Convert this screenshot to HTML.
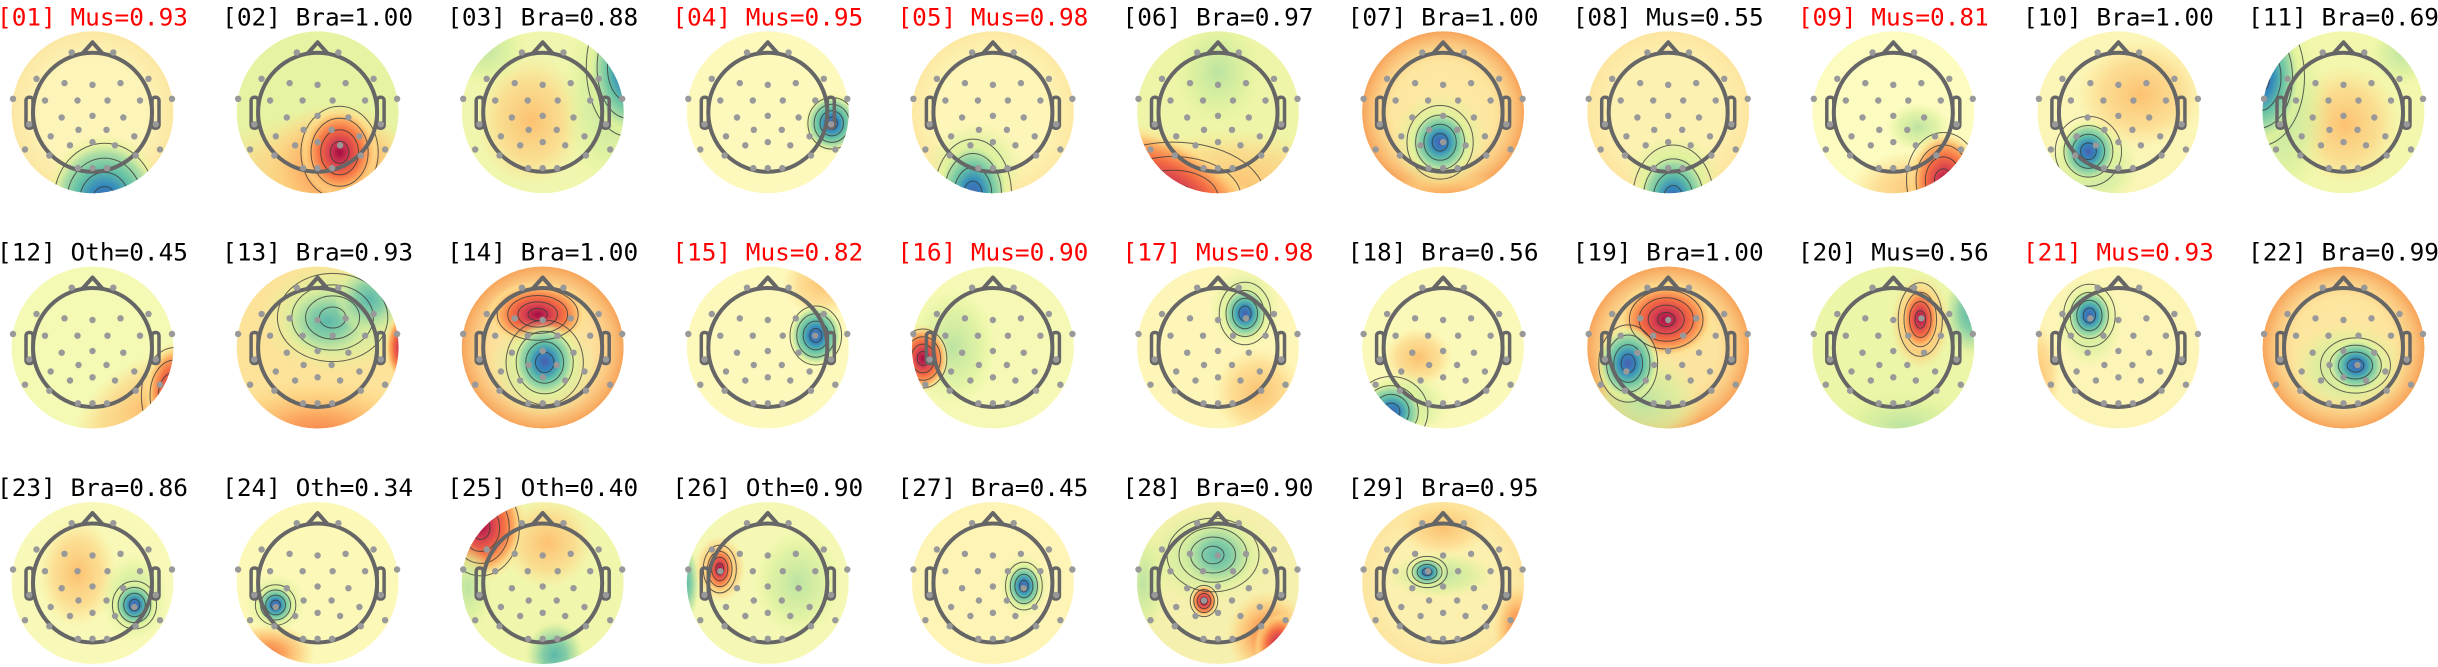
<!DOCTYPE html>
<html><head><meta charset="utf-8"><style>
html,body{margin:0;padding:0;background:#fff;}
svg{display:block;}
.t{font-family:"DejaVu Sans Mono","Liberation Mono",monospace;font-size:24.4px;text-anchor:middle;fill:#000;}
.r{fill:#f00;}
</style></head><body>
<svg width="2438" height="667" viewBox="0 0 2438 667" xmlns="http://www.w3.org/2000/svg" xmlns:xlink="http://www.w3.org/1999/xlink">
<defs>
<clipPath id="c"><circle r="81"/></clipPath>
<radialGradient id="gB"><stop offset="0" stop-color="#4a5fb0"/><stop offset=".25" stop-color="#3288bd"/><stop offset=".5" stop-color="#66c2a5"/><stop offset=".72" stop-color="#abdda4"/><stop offset=".88" stop-color="#e6f598" stop-opacity=".6"/><stop offset="1" stop-color="#e6f598" stop-opacity="0"/></radialGradient>
<radialGradient id="gR"><stop offset="0" stop-color="#a30c45"/><stop offset=".25" stop-color="#d53e4f"/><stop offset=".5" stop-color="#f46d43"/><stop offset=".72" stop-color="#fdae61"/><stop offset=".88" stop-color="#fee08b" stop-opacity=".6"/><stop offset="1" stop-color="#fee08b" stop-opacity="0"/></radialGradient>
<radialGradient id="gT"><stop offset="0" stop-color="#5cb8aa"/><stop offset=".4" stop-color="#86cea5"/><stop offset=".75" stop-color="#c0e5a0" stop-opacity=".7"/><stop offset="1" stop-color="#e6f598" stop-opacity="0"/></radialGradient>
<radialGradient id="gG"><stop offset="0" stop-color="#bce3a1"/><stop offset=".6" stop-color="#d6ef9d" stop-opacity=".7"/><stop offset="1" stop-color="#e6f598" stop-opacity="0"/></radialGradient>
<radialGradient id="gO"><stop offset="0" stop-color="#fcc170"/><stop offset=".6" stop-color="#fdd384" stop-opacity=".7"/><stop offset="1" stop-color="#fee08b" stop-opacity="0"/></radialGradient>
<radialGradient id="gOs"><stop offset="0" stop-color="#f67e4b"/><stop offset=".35" stop-color="#fba55d"/><stop offset=".7" stop-color="#fdcb7a" stop-opacity=".7"/><stop offset="1" stop-color="#fee08b" stop-opacity="0"/></radialGradient>
<radialGradient id="rimS"><stop offset="0" stop-color="#fdd488" stop-opacity="0"/><stop offset=".6" stop-color="#fdd488" stop-opacity=".15"/><stop offset="1" stop-color="#f7a45a"/></radialGradient>
<radialGradient id="rimL"><stop offset="0" stop-color="#fdd88a" stop-opacity="0"/><stop offset=".65" stop-color="#fdd88a" stop-opacity="0"/><stop offset="1" stop-color="#fdd88a" stop-opacity=".45"/></radialGradient>
<g id="rk" fill="none" stroke="#3a3a3a" stroke-opacity=".8">
<circle r=".22" vector-effect="non-scaling-stroke"/><circle r=".45" vector-effect="non-scaling-stroke"/><circle r=".68" vector-effect="non-scaling-stroke"/><circle r=".92" vector-effect="non-scaling-stroke"/>
</g>
<g id="h">
<g fill="none" stroke="#666" stroke-width="4" stroke-linejoin="round">
<circle r="59.5"/>
<path d="M-10,-58.8 L0,-70 L10,-58.8"/>
<rect x="-66.5" y="-15" width="7" height="31" rx="3" stroke-width="3.5"/>
<rect x="59.5" y="-15" width="7" height="31" rx="3" stroke-width="3.5"/>
</g>
<g fill="#999">
<circle cx="-20.8" cy="-59.8" r="3.2"/><circle cx="20.8" cy="-59.8" r="3.2"/>
<circle cx="-56" cy="-33.5" r="3.2"/><circle cx="56" cy="-33.5" r="3.2"/>
<circle cx="-28" cy="-29.2" r="3.2"/><circle cx="28" cy="-29.2" r="3.2"/><circle cx="0" cy="-27.5" r="3.2"/>
<circle cx="-79.5" cy="-13.5" r="3.2"/><circle cx="79.5" cy="-13.5" r="3.2"/>
<circle cx="-47.5" cy="-11.8" r="3.2"/><circle cx="47.5" cy="-11.8" r="3.2"/>
<circle cx="-15" cy="-11.8" r="3.2"/><circle cx="15" cy="-11.8" r="3.2"/>
<circle cx="-30.8" cy="5.2" r="3.2"/><circle cx="30.8" cy="5.2" r="3.2"/><circle cx="0" cy="3.5" r="3.2"/>
<circle cx="-63.3" cy="12" r="3.2"/><circle cx="63.3" cy="12" r="3.2"/>
<circle cx="-14" cy="17.5" r="3.2"/><circle cx="14" cy="17.5" r="3.2"/>
<circle cx="-41.8" cy="24" r="3.2"/><circle cx="41.8" cy="24" r="3.2"/>
<circle cx="-67.5" cy="37.2" r="3.2"/><circle cx="67.5" cy="37.2" r="3.2"/>
<circle cx="-22.5" cy="33" r="3.2"/><circle cx="22.5" cy="33" r="3.2"/><circle cx="0" cy="29.8" r="3.2"/>
<circle cx="-43.2" cy="43.2" r="3.2"/><circle cx="43.2" cy="43.2" r="3.2"/>
<circle cx="-14.5" cy="55.8" r="3.2"/><circle cx="14.5" cy="55.8" r="3.2"/><circle cx="0" cy="55.8" r="3.2"/>
</g>
</g>
</defs>

<!-- ROW 1 -->
<g transform="translate(92.5,112.3)">
<g clip-path="url(#c)"><circle r="81" fill="#fcf4b8"/><circle r="81" fill="url(#rimL)"/>
<ellipse cx="12" cy="90" rx="60" ry="68" fill="url(#gB)"/>
<use href="#rk" transform="translate(12,88) scale(55,62)"/></g>
<use href="#h"/><text class="t r" y="-87">[01] Mus=0.93</text></g>

<g transform="translate(317.6,112.3)">
<g clip-path="url(#c)"><circle r="81" fill="#e6f3a2"/>
<ellipse cx="0" cy="70" rx="120" ry="70" fill="url(#gO)"/>
<ellipse cx="18" cy="55" rx="75" ry="65" fill="url(#gOs)"/>
<ellipse cx="22" cy="40" rx="40" ry="46" fill="url(#gR)"/>
<use href="#rk" transform="translate(22,40) scale(42,50)"/></g>
<use href="#h"/><text class="t" y="-87">[02] Bra=1.00</text></g>

<g transform="translate(542.7,112.3)">
<g clip-path="url(#c)"><circle r="81" fill="#f1f6ae"/>
<ellipse cx="-12" cy="8" rx="55" ry="65" fill="url(#gO)"/>
<ellipse cx="68" cy="-15" rx="50" ry="95" fill="url(#gG)"/>
<ellipse cx="86" cy="-42" rx="42" ry="68" fill="url(#gB)"/>
<ellipse cx="-60" cy="-65" rx="45" ry="40" fill="url(#gG)"/>
<use href="#rk" transform="translate(85,-45) scale(45,75)"/></g>
<use href="#h"/><text class="t" y="-87">[03] Bra=0.88</text></g>

<g transform="translate(767.8,112.3)">
<g clip-path="url(#c)"><circle r="81" fill="#fdf8bb"/>
<ellipse cx="64" cy="11" rx="28" ry="30" fill="url(#gB)"/>
<use href="#rk" transform="translate(64,11) scale(26,28)"/></g>
<use href="#h"/><text class="t r" y="-87">[04] Mus=0.95</text></g>

<g transform="translate(992.9,112.3)">
<g clip-path="url(#c)"><circle r="81" fill="#fdf6b8"/><circle r="81" fill="url(#rimL)"/>
<ellipse cx="-18" cy="55" rx="50" ry="45" fill="url(#gG)"/>
<ellipse cx="-20" cy="82" rx="38" ry="55" fill="url(#gB)"/>
<use href="#rk" transform="translate(-20,82) scale(42,60)"/></g>
<use href="#h"/><text class="t r" y="-87">[05] Mus=0.98</text></g>

<g transform="translate(1218,112.3)">
<g clip-path="url(#c)"><circle r="81" fill="#eef5a8"/>
<ellipse cx="0" cy="-40" rx="45" ry="55" fill="url(#gG)"/>
<ellipse cx="15" cy="72" rx="120" ry="55" fill="url(#gO)"/>
<ellipse cx="-48" cy="82" rx="110" ry="55" fill="url(#gR)" transform="rotate(30 -48 82)"/>
<use href="#rk" transform="translate(-45,85) scale(100,60)"/></g>
<use href="#h"/><text class="t" y="-87">[06] Bra=0.97</text></g>

<g transform="translate(1443.1,112.3)">
<g clip-path="url(#c)"><circle r="81" fill="#fdeaa4"/><circle r="81" fill="url(#rimS)"/>
<ellipse cx="10" cy="95" rx="90" ry="35" fill="url(#gOs)"/>
<ellipse cx="-3" cy="28" rx="48" ry="48" fill="url(#gG)"/>
<ellipse cx="-3" cy="30" rx="32" ry="34" fill="url(#gB)"/>
<use href="#rk" transform="translate(-3,30) scale(36,40)"/></g>
<use href="#h"/><text class="t" y="-87">[07] Bra=1.00</text></g>

<g transform="translate(1668.2,112.3)">
<g clip-path="url(#c)"><circle r="81" fill="#fdf1b2"/><circle r="81" fill="url(#rimL)"/>
<ellipse cx="5" cy="62" rx="48" ry="40" fill="url(#gG)"/>
<ellipse cx="5" cy="88" rx="38" ry="52" fill="url(#gB)"/>
<use href="#rk" transform="translate(5,86) scale(44,58)"/></g>
<use href="#h"/><text class="t" y="-87">[08] Mus=0.55</text></g>

<g transform="translate(1893.3,112.3)">
<g clip-path="url(#c)"><circle r="81" fill="#fcfbc0"/>
<ellipse cx="25" cy="15" rx="32" ry="24" fill="url(#gG)"/>
<ellipse cx="25" cy="78" rx="70" ry="40" fill="url(#gO)"/>
<ellipse cx="52" cy="70" rx="38" ry="52" fill="url(#gR)"/>
<use href="#rk" transform="translate(50,68) scale(40,52)"/></g>
<use href="#h"/><text class="t r" y="-87">[09] Mus=0.81</text></g>

<g transform="translate(2118.4,112.3)">
<g clip-path="url(#c)"><circle r="81" fill="#fbf6b8"/>
<ellipse cx="22" cy="-18" rx="65" ry="55" fill="url(#gO)"/>
<ellipse cx="-25" cy="55" rx="48" ry="45" fill="url(#gG)"/>
<ellipse cx="-30" cy="39" rx="30" ry="32" fill="url(#gB)"/>
<use href="#rk" transform="translate(-30,39) scale(36,38)"/></g>
<use href="#h"/><text class="t" y="-87">[10] Bra=1.00</text></g>

<g transform="translate(2343.5,112.3)">
<g clip-path="url(#c)"><circle r="81" fill="#f3f7ae"/>
<ellipse cx="2" cy="12" rx="55" ry="60" fill="url(#gO)"/>
<ellipse cx="-62" cy="0" rx="48" ry="95" fill="url(#gG)"/>
<ellipse cx="-82" cy="-35" rx="42" ry="70" fill="url(#gB)"/>
<ellipse cx="60" cy="-60" rx="35" ry="35" fill="url(#gG)"/>
<use href="#rk" transform="translate(-85,-35) scale(50,75)"/></g>
<use href="#h"/><text class="t" y="-87">[11] Bra=0.69</text></g>

<!-- ROW 2 -->
<g transform="translate(92.5,347.5)">
<g clip-path="url(#c)"><circle r="81" fill="#f4f9b4"/>
<ellipse cx="50" cy="60" rx="80" ry="45" fill="url(#gO)" transform="rotate(-35 50 60)"/>
<ellipse cx="82" cy="45" rx="30" ry="50" fill="url(#gR)"/>
<use href="#rk" transform="translate(82,48) scale(36,52)"/></g>
<use href="#h"/><text class="t" y="-87">[12] Oth=0.45</text></g>

<g transform="translate(317.6,347.5)">
<g clip-path="url(#c)"><circle r="81" fill="#fde29a"/>
<ellipse cx="0" cy="90" rx="120" ry="60" fill="url(#gOs)"/>
<ellipse cx="20" cy="-30" rx="80" ry="58" fill="url(#gG)"/>
<ellipse cx="10" cy="-26" rx="45" ry="36" fill="url(#gT)"/>
<ellipse cx="52" cy="-48" rx="35" ry="35" fill="url(#gT)"/>
<ellipse cx="85" cy="0" rx="18" ry="35" fill="url(#gR)"/>
<use href="#rk" transform="translate(15,-30) scale(60,48)"/></g>
<use href="#h"/><text class="t" y="-87">[13] Bra=0.93</text></g>

<g transform="translate(542.7,347.5)">
<g clip-path="url(#c)"><circle r="81" fill="#fde2a0"/><circle r="81" fill="url(#rimS)"/>
<ellipse cx="-5" cy="-33" rx="52" ry="34" fill="url(#gR)"/>
<ellipse cx="0" cy="20" rx="55" ry="50" fill="url(#gG)"/>
<ellipse cx="2" cy="14" rx="34" ry="38" fill="url(#gB)"/>
<use href="#rk" transform="translate(-5,-33) scale(44,28)"/>
<use href="#rk" transform="translate(2,15) scale(42,46)"/></g>
<use href="#h"/><text class="t" y="-87">[14] Bra=1.00</text></g>

<g transform="translate(767.8,347.5)">
<g clip-path="url(#c)"><circle r="81" fill="#fdf8bb"/>
<ellipse cx="55" cy="-65" rx="40" ry="35" fill="url(#gO)"/>
<ellipse cx="48" cy="-12" rx="28" ry="32" fill="url(#gB)"/>
<use href="#rk" transform="translate(48,-12) scale(28,32)"/></g>
<use href="#h"/><text class="t r" y="-87">[15] Mus=0.82</text></g>

<g transform="translate(992.9,347.5)">
<g clip-path="url(#c)"><circle r="81" fill="#f6f9b6"/>
<ellipse cx="-40" cy="0" rx="45" ry="60" fill="url(#gG)"/>
<ellipse cx="-70" cy="11" rx="26" ry="34" fill="url(#gR)"/>
<use href="#rk" transform="translate(-70,11) scale(26,32)"/></g>
<use href="#h"/><text class="t r" y="-87">[16] Mus=0.90</text></g>

<g transform="translate(1218,347.5)">
<g clip-path="url(#c)"><circle r="81" fill="#fdf6b8"/>
<ellipse cx="40" cy="45" rx="45" ry="45" fill="url(#gO)"/>
<ellipse cx="27" cy="-40" rx="36" ry="42" fill="url(#gG)"/>
<ellipse cx="27" cy="-34" rx="24" ry="28" fill="url(#gB)"/>
<use href="#rk" transform="translate(27,-34) scale(28,34)"/></g>
<use href="#h"/><text class="t r" y="-87">[17] Mus=0.98</text></g>

<g transform="translate(1443.1,347.5)">
<g clip-path="url(#c)"><circle r="81" fill="#fbf9ba"/>
<ellipse cx="-25" cy="10" rx="35" ry="30" fill="url(#gO)"/>
<ellipse cx="-40" cy="58" rx="48" ry="35" fill="url(#gG)"/>
<ellipse cx="-52" cy="65" rx="34" ry="32" fill="url(#gB)"/>
<use href="#rk" transform="translate(-52,64) scale(40,38)"/></g>
<use href="#h"/><text class="t" y="-87">[18] Bra=0.56</text></g>

<g transform="translate(1668.2,347.5)">
<g clip-path="url(#c)"><circle r="81" fill="#fce6a2"/><circle r="81" fill="url(#rimS)"/>
<ellipse cx="-25" cy="55" rx="60" ry="50" fill="url(#gG)"/>
<ellipse cx="-2" cy="-28" rx="50" ry="40" fill="url(#gR)"/>
<ellipse cx="-40" cy="16" rx="32" ry="38" fill="url(#gB)"/>
<use href="#rk" transform="translate(-2,-28) scale(40,32)"/>
<use href="#rk" transform="translate(-40,16) scale(32,42)"/></g>
<use href="#h"/><text class="t" y="-87">[19] Bra=1.00</text></g>

<g transform="translate(1893.3,347.5)">
<g clip-path="url(#c)"><circle r="81" fill="#ecf5a8"/>
<ellipse cx="78" cy="-35" rx="28" ry="45" fill="url(#gT)"/>
<ellipse cx="10" cy="78" rx="70" ry="35" fill="url(#gG)"/>
<ellipse cx="27" cy="-25" rx="30" ry="48" fill="url(#gOs)"/>
<ellipse cx="27" cy="-29" rx="20" ry="34" fill="url(#gR)"/>
<use href="#rk" transform="translate(27,-28) scale(24,40)"/></g>
<use href="#h"/><text class="t" y="-87">[20] Mus=0.56</text></g>

<g transform="translate(2118.4,347.5)">
<g clip-path="url(#c)"><circle r="81" fill="#fdf5b8"/>
<ellipse cx="-80" cy="30" rx="22" ry="55" fill="url(#gO)"/>
<ellipse cx="-29" cy="-25" rx="34" ry="46" fill="url(#gG)"/>
<ellipse cx="-29" cy="-32" rx="24" ry="28" fill="url(#gB)"/>
<use href="#rk" transform="translate(-29,-32) scale(28,34)"/></g>
<use href="#h"/><text class="t r" y="-87">[21] Mus=0.93</text></g>

<g transform="translate(2343.5,347.5)">
<g clip-path="url(#c)"><circle r="81" fill="#fde8a2"/><circle r="81" fill="url(#rimS)"/>
<ellipse cx="5" cy="20" rx="58" ry="45" fill="url(#gG)"/>
<ellipse cx="13" cy="18" rx="30" ry="28" fill="url(#gB)"/>
<use href="#rk" transform="translate(12,18) scale(38,30)"/></g>
<use href="#h"/><text class="t" y="-87">[22] Bra=0.99</text></g>

<!-- ROW 3 -->
<g transform="translate(92.5,583)">
<g clip-path="url(#c)"><circle r="81" fill="#f8f9b8"/>
<ellipse cx="-15" cy="-10" rx="40" ry="55" fill="url(#gO)"/>
<ellipse cx="42" cy="15" rx="35" ry="45" fill="url(#gG)"/>
<ellipse cx="42" cy="22" rx="22" ry="24" fill="url(#gB)"/>
<use href="#rk" transform="translate(42,22) scale(24,26)"/></g>
<use href="#h"/><text class="t" y="-87">[23] Bra=0.86</text></g>

<g transform="translate(317.6,583)">
<g clip-path="url(#c)"><circle r="81" fill="#fbf8b8"/>
<ellipse cx="-50" cy="70" rx="48" ry="30" fill="url(#gOs)"/>
<ellipse cx="-42" cy="20" rx="30" ry="30" fill="url(#gG)"/>
<ellipse cx="-42" cy="22" rx="20" ry="21" fill="url(#gB)"/>
<use href="#rk" transform="translate(-42,22) scale(22,22)"/></g>
<use href="#h"/><text class="t" y="-87">[24] Oth=0.34</text></g>

<g transform="translate(542.7,583)">
<g clip-path="url(#c)"><circle r="81" fill="#f1f6ad"/>
<ellipse cx="5" cy="-40" rx="45" ry="45" fill="url(#gO)"/>
<ellipse cx="-62" cy="-58" rx="46" ry="56" fill="url(#gR)"/>
<ellipse cx="-75" cy="5" rx="25" ry="45" fill="url(#gG)"/>
<ellipse cx="12" cy="72" rx="30" ry="35" fill="url(#gT)"/>
<use href="#rk" transform="translate(-62,-55) scale(42,52)"/></g>
<use href="#h"/><text class="t" y="-87">[25] Oth=0.40</text></g>

<g transform="translate(767.8,583)">
<g clip-path="url(#c)"><circle r="81" fill="#f5f8b5"/>
<ellipse cx="30" cy="0" rx="45" ry="55" fill="url(#gG)"/>
<ellipse cx="-82" cy="0" rx="14" ry="40" fill="url(#gT)"/>
<ellipse cx="-48" cy="-14" rx="26" ry="34" fill="url(#gOs)"/>
<ellipse cx="-48" cy="-14" rx="16" ry="25" fill="url(#gR)"/>
<use href="#rk" transform="translate(-48,-14) scale(18,26)"/></g>
<use href="#h"/><text class="t" y="-87">[26] Oth=0.90</text></g>

<g transform="translate(992.9,583)">
<g clip-path="url(#c)"><circle r="81" fill="#fdf4b6"/>
<ellipse cx="31" cy="3" rx="26" ry="32" fill="url(#gG)"/>
<ellipse cx="31" cy="3" rx="19" ry="24" fill="url(#gB)"/>
<use href="#rk" transform="translate(31,3) scale(20,26)"/></g>
<use href="#h"/><text class="t" y="-87">[27] Bra=0.45</text></g>

<g transform="translate(1218,583)">
<g clip-path="url(#c)"><circle r="81" fill="#f6f0ae"/>
<ellipse cx="-10" cy="-28" rx="68" ry="50" fill="url(#gG)"/>
<ellipse cx="-1" cy="-28" rx="38" ry="34" fill="url(#gT)"/>
<ellipse cx="-75" cy="0" rx="24" ry="55" fill="url(#gG)"/>
<ellipse cx="50" cy="52" rx="42" ry="45" fill="url(#gOs)"/>
<ellipse cx="62" cy="62" rx="26" ry="32" fill="url(#gR)"/>
<ellipse cx="-14" cy="18" rx="14" ry="17" fill="url(#gR)"/>
<use href="#rk" transform="translate(-14,18) scale(15,17)"/>
<use href="#rk" transform="translate(-5,-28) scale(50,40)"/></g>
<use href="#h"/><text class="t" y="-87">[28] Bra=0.90</text></g>

<g transform="translate(1443.1,583)">
<g clip-path="url(#c)"><circle r="81" fill="#fcf0b0"/><circle r="81" fill="url(#rimL)"/>
<ellipse cx="0" cy="-55" rx="45" ry="28" fill="url(#gO)"/>
<ellipse cx="75" cy="45" rx="25" ry="45" fill="url(#gOs)"/>
<ellipse cx="-3" cy="-8" rx="55" ry="24" fill="url(#gG)"/>
<ellipse cx="-16" cy="-11" rx="18" ry="15" fill="url(#gB)"/>
<use href="#rk" transform="translate(-16,-11) scale(22,17)"/></g>
<use href="#h"/><text class="t" y="-87">[29] Bra=0.95</text></g>
</svg>
</body></html>
